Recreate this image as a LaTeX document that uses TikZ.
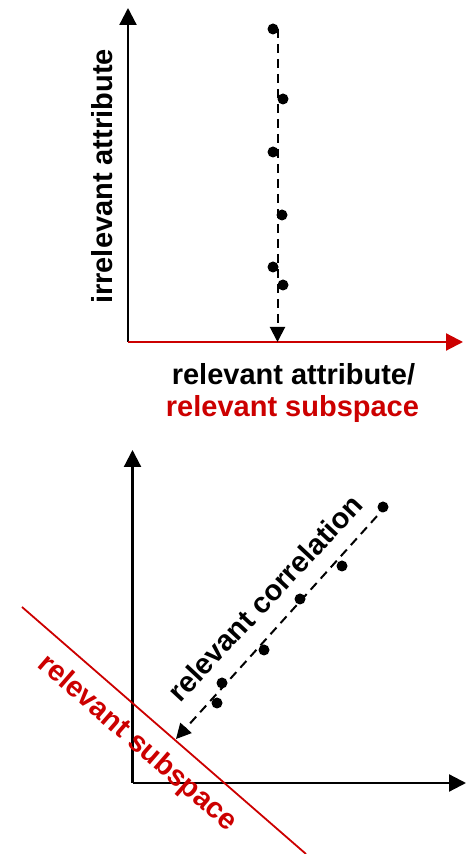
\documentclass[tikz,border=0pt]{standalone}
\usepackage{fontspec}
\setmainfont{Liberation Sans}
\usepackage{xcolor}
\usepackage{tikz}
\usetikzlibrary{arrows.meta,calc}
\definecolor{SubRed}{HTML}{CC0000}
\definecolor{AxisBlack}{HTML}{000000}
\tikzset{
  axisarr/.style={-{Triangle[length=17pt,width=17pt]}, line width=2.2pt, draw=AxisBlack},
  subline/.style={line width=1.8pt, draw=SubRed},
  corrarr/.style={-{Triangle[length=15pt,width=15pt]}, dash pattern=on 9pt off 6pt, line width=2pt},
  datadot/.style={circle, fill=black, inner sep=0pt, minimum size=11pt},
  axislabel/.style={font=\fontsize{29}{33}\selectfont\bfseries, inner sep=0pt}
}

\begin{document}
\begin{tikzpicture}[x=1pt, y=1pt]
      \useasboundingbox (0,0) rectangle (468,854);
      % upper plot
      \coordinate (O1) at (128,512);
      \coordinate (Y1) at (128,846);
      \coordinate (X1) at (463,512);
      \coordinate (P1) at (277.5,512);
      \coordinate (S1) at (277.5,825);
      \draw[axisarr] (O1) -- (Y1);
      \draw[axisarr, draw=SubRed, fill=SubRed] (O1) -- (X1);
      \draw[corrarr] (S1) -- (P1);
      \node[datadot] (a1) at (273,825) {};
      \node[datadot] (a2) at (283,755) {};
      \node[datadot] (a3) at (273,702) {};
      \node[datadot] (a4) at (282,639) {};
      \node[datadot] (a5) at (273,587) {};
      \node[datadot] (a6) at (283,569) {};
      \node[axislabel, rotate=90, anchor=base] (irr) at (112,677.5) {irrelevant attribute};
      \node[axislabel, anchor=base] (rel) at (293.5,469) {relevant attribute/};
      \node[axislabel, anchor=base, text=SubRed] (relsub) at (292.5,437) {relevant subspace};
      % lower plot
      \coordinate (O2) at (132.5,71);
      \coordinate (Y2) at (132.5,404);
      \coordinate (X2) at (466,71);
      \coordinate (L1) at (22,247);
      \coordinate (L2) at (306,0);
      \coordinate (C1) at (387,349);
      \coordinate (C2) at (176,115);
      \draw[axisarr] (O2) -- (Y2);
      \draw[axisarr] (O2) -- (X2);
      \draw[subline] (L1) -- (L2);
      \draw[corrarr] (C1) -- (C2);
      \node[datadot] (b1) at (383,347) {};
      \node[datadot] (b2) at (342,288) {};
      \node[datadot] (b3) at (300,255) {};
      \node[datadot] (b4) at (264,204) {};
      \node[datadot] (b5) at (222,171) {};
      \node[datadot] (b6) at (217,151) {};
      \node[axislabel, rotate=47] (corr) at (265,256) {relevant correlation};
      \node[axislabel, rotate=-41, text=SubRed] (sub) at (137,110.5) {relevant subspace};
    \end{tikzpicture}
\end{document}
